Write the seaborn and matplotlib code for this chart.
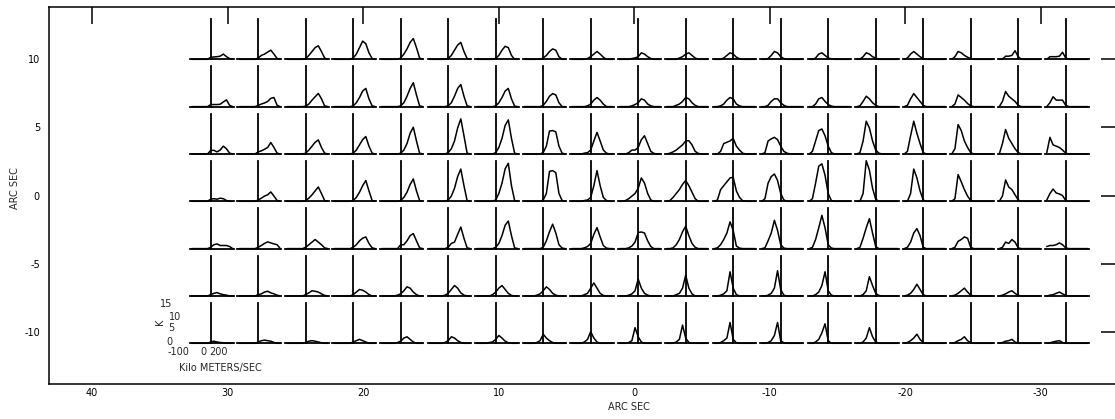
import matplotlib
matplotlib.use("Agg")
import matplotlib.pyplot as plt
import seaborn as sns

# channel velocities (km/s) shared by every spectrum
velocity = [-180, -150, -120, -90, -60, -30, 0, 30, 60, 90, 120, 150, 180, 210]

x_ticks = [40, 30, 20, 10, 0, -10, -20, -30]
y_ticks = [-10, -5, 0, 5, 10]

# brightness (K) per channel, one list per column (east -> west), one block per row (north -> south)
spec_row0 = [
    [0, 0, 0, 0, 0, 0, 0.8, 0.9, 1, 1.2, 2, 1, 0.3, 0],
    [0, 0, 0, 0, 0, 0, 0.5, 1.5, 2, 2.8, 3.5, 2, 0.3, 0],
    [0, 0, 0, 0, 0, 0, 0.3, 1.5, 3, 4.5, 5.2, 3, 0.5, 0],
    [0, 0, 0, 0, 0, 0, 0.5, 2, 4.5, 7, 6, 2.5, 0.3, 0],
    [0, 0, 0, 0, 0, 0, 0.5, 2, 4, 6.5, 8, 4.5, 0.5, 0],
    [0, 0, 0, 0, 0, 0, 0.3, 1.5, 3.5, 5.5, 6.5, 3, 0.3, 0],
    [0, 0, 0, 0, 0, 0, 0.3, 1.5, 3.5, 5, 4.5, 1.5, 0, 0],
    [0, 0, 0, 0, 0, 0, 0.5, 1.5, 3, 4, 3.5, 1, 0, 0],
    [0, 0, 0, 0, 0, 0.3, 1, 2, 3, 2, 0.8, 0, 0, 0],
    [0, 0, 0, 0, 0.3, 0.5, 1, 2.5, 2, 1, 0.3, 0, 0, 0],
    [0, 0, 0, 0, 0.5, 1, 2, 2.5, 1.5, 0.5, 0, 0, 0, 0],
    [0, 0, 0, 0.5, 1.5, 2.5, 2, 0.8, 0.2, 0, 0, 0, 0, 0],
    [0, 0, 0.3, 1.5, 3, 2.5, 1, 0.3, 0, 0, 0, 0, 0, 0],
    [0, 0, 0.5, 2, 2.5, 1.5, 0.5, 0.2, 0, 0, 0, 0, 0, 0],
    [0, 0, 1, 2.5, 2, 1, 0.5, 0, 0, 0, 0, 0, 0, 0],
    [0, 0.5, 2, 3, 2, 1, 0.3, 0, 0, 0, 0, 0, 0, 0],
    [0, 1, 3, 2.5, 1.5, 0.8, 0.3, 0, 0, 0, 0, 0, 0, 0],
    [0, 0, 1.2, 1.2, 1.5, 3.3, 1, 0, 0, 0, 0, 0, 0, 0],
    [0, 1, 1, 1, 1.2, 2.7, 0.5, 0, 0, 0, 0, 0, 0, 0],
]
spec_row1 = [
    [0, 0, 0, 0, 0, 0, 0.8, 0.8, 0.8, 0.9, 1.8, 2.6, 0.5, 0],
    [0, 0, 0, 0, 0, 0, 0.5, 1, 1.4, 2, 3.2, 3.5, 0.5, 0],
    [0, 0, 0, 0, 0, 0, 0.2, 1, 2.5, 3.8, 5.1, 3, 0.3, 0],
    [0, 0, 0, 0, 0, 0, 0.3, 1.5, 3.5, 6, 7, 3, 0.3, 0],
    [0, 0, 0, 0, 0, 0, 0.3, 1.5, 4, 7, 9.2, 4.5, 0.3, 0],
    [0, 0, 0, 0, 0, 0, 0.3, 1.5, 4, 7, 8.5, 4, 0.3, 0],
    [0, 0, 0, 0, 0, 0, 0.3, 1.5, 3.5, 6, 7, 3, 0.2, 0],
    [0, 0, 0, 0, 0, 0, 0.5, 2, 4, 5, 4.5, 1.5, 0, 0],
    [0, 0, 0, 0, 0, 0.3, 1, 2.5, 3.5, 2.5, 1, 0, 0, 0],
    [0, 0, 0, 0, 0.3, 0.8, 1.5, 3, 2.5, 1, 0.3, 0, 0, 0],
    [0, 0, 0, 0.5, 1, 2, 3.5, 3, 1.5, 0.5, 0, 0, 0, 0],
    [0, 0, 0.3, 1, 2.5, 3.5, 3, 1, 0.3, 0, 0, 0, 0, 0],
    [0, 0, 0.5, 2, 3, 3, 1.5, 0.5, 0, 0, 0, 0, 0, 0],
    [0, 0, 1, 3, 3.5, 2, 0.8, 0.2, 0, 0, 0, 0, 0, 0],
    [0, 0.3, 2, 4, 3, 1.5, 0.5, 0, 0, 0, 0, 0, 0, 0],
    [0, 0.5, 3, 5, 3.5, 2, 0.5, 0, 0, 0, 0, 0, 0, 0],
    [0, 1, 4.5, 3.5, 2.5, 1.2, 0.3, 0, 0, 0, 0, 0, 0, 0],
    [0, 2, 5.8, 4, 3, 2, 0.5, 0, 0, 0, 0, 0, 0, 0],
    [0, 1.5, 3.8, 2.5, 2.5, 2.5, 0.5, 0, 0, 0, 0, 0, 0, 0],
]
spec_row2 = [
    [0, 0, 0, 0, 0, 0, 1.4, 1.4, 0.8, 1.5, 3, 2, 0.3, 0],
    [0, 0, 0, 0, 0, 0, 0.8, 1.2, 1.8, 2.5, 4.4, 2.5, 0.3, 0],
    [0, 0, 0, 0, 0, 0, 0.3, 1.5, 3, 4.5, 5.4, 2.5, 0.3, 0],
    [0, 0, 0, 0, 0, 0, 0.3, 1.5, 3.5, 5.5, 6.7, 3, 0.3, 0],
    [0, 0, 0, 0, 0, 0, 0.3, 1.5, 4, 8, 10.3, 5, 0.3, 0],
    [0, 0, 0, 0, 0, 0, 0.5, 2, 5, 10, 13.5, 7, 0.3, 0],
    [0, 0, 0, 0, 0, 0, 0.5, 2.5, 6, 11, 13.1, 6, 0.3, 0],
    [0, 0, 0, 0, 0, 0, 0.5, 3, 8.8, 9, 8.5, 3, 0.3, 0],
    [0, 0, 0, 0, 0.3, 0.5, 1.5, 5, 8.3, 5, 1.5, 0.3, 0, 0],
    [0, 0, 0, 0.5, 1.5, 1.5, 2.5, 5.5, 7, 4, 1, 0.2, 0, 0],
    [0, 0.3, 0.8, 1.5, 2.5, 3.5, 5, 5.1, 3.5, 1, 0.2, 0, 0, 0],
    [0, 0, 1, 4, 4.5, 5, 6, 3, 1.5, 0.3, 0, 0, 0, 0],
    [0, 0.5, 5, 5.8, 6.4, 5.5, 3, 1, 0.3, 0, 0, 0, 0, 0],
    [0, 1, 5, 9, 9.6, 7, 3, 0.5, 0, 0, 0, 0, 0, 0],
    [0, 0.5, 5, 12.6, 10, 5, 1.5, 0.3, 0, 0, 0, 0, 0, 0],
    [0, 1, 7, 12.6, 8, 4, 0.5, 0, 0, 0, 0, 0, 0, 0],
    [0, 2, 11.3, 9, 5, 2.5, 0.5, 0, 0, 0, 0, 0, 0, 0],
    [0, 4, 9.4, 6, 4, 2, 0.5, 0, 0, 0, 0, 0, 0, 0],
    [0.5, 6.4, 3.5, 3, 2.5, 1.5, 0.3, 0, 0, 0, 0, 0, 0, 0],
]
spec_row3 = [
    [0, 0, 0, 0, 0, 0, 0.8, 1, 0.8, 1.2, 1, 0.3, 0, 0],
    [0, 0, 0, 0, 0, 0, 0.5, 1.2, 2, 2.5, 3.6, 2, 0.3, 0],
    [0, 0, 0, 0, 0, 0, 0.3, 1.2, 2.5, 4, 5.5, 3, 0.3, 0],
    [0, 0, 0, 0, 0, 0, 0.3, 1.5, 3.5, 6, 8, 4, 0.3, 0],
    [0, 0, 0, 0, 0, 0, 0.3, 1.5, 3.5, 6.5, 8.6, 4, 0.3, 0],
    [0, 0, 0, 0, 0, 0, 0.5, 2, 5, 9.5, 12.4, 6, 0.3, 0],
    [0, 0, 0, 0, 0, 0, 0.5, 3, 7, 12.5, 14.6, 6, 0.3, 0],
    [0, 0, 0, 0, 0, 0, 0.5, 3, 11.5, 11.8, 11, 3, 0.3, 0],
    [0, 0, 0, 0, 0.3, 0.5, 1.5, 6, 11.8, 6, 1.5, 0.3, 0, 0],
    [0, 0, 0.3, 1, 2, 3, 5, 9, 7, 3, 0.5, 0, 0, 0],
    [0, 0.3, 1.5, 3, 4.5, 6.5, 8, 6, 3.5, 1, 0, 0, 0, 0],
    [0, 0.5, 4.5, 6, 7.5, 9, 9.2, 4, 1.5, 0.2, 0, 0, 0, 0],
    [0, 1, 7, 9.5, 10.5, 8, 3, 0.5, 0, 0, 0, 0, 0, 0],
    [0, 1, 7, 13.5, 14.4, 10, 3, 0.3, 0, 0, 0, 0, 0, 0],
    [0, 0, 3, 15.6, 12, 5, 0.8, 0, 0, 0, 0, 0, 0, 0],
    [0, 0, 3, 12.4, 9, 4, 0.5, 0, 0, 0, 0, 0, 0, 0],
    [0, 1, 10.3, 7.5, 4.5, 2, 0.3, 0, 0, 0, 0, 0, 0, 0],
    [0, 2, 8.2, 5.5, 4.5, 2.5, 0.5, 0, 0, 0, 0, 0, 0, 0],
    [0.5, 3, 4.7, 3.2, 2.8, 2.2, 0.3, 0, 0, 0, 0, 0, 0, 0],
]
spec_row4 = [
    [0, 0, 0, 0, 0, 0, 0.5, 1.5, 1.8, 1.2, 1.2, 1.2, 0.8, 0],
    [0, 0, 0, 0, 0, 0, 0.5, 1.2, 2, 2.6, 2.2, 1.8, 1.5, 0],
    [0, 0, 0, 0, 0, 0, 0.5, 1.5, 2.5, 3.5, 2.5, 1.5, 0.3, 0],
    [0, 0, 0, 0, 0, 0, 0.5, 1.5, 3, 4, 4.5, 2, 0.3, 0],
    [0, 0, 0, 0, 0, 0, 1.5, 1.5, 3, 5, 5.8, 3, 0.3, 0],
    [0, 0, 0, 0, 0, 0, 0.5, 2, 2.5, 5.5, 8.3, 4, 0.3, 0],
    [0, 0, 0, 0, 0, 0, 0.5, 2, 5, 9, 10.6, 5, 0.3, 0],
    [0, 0, 0, 0, 0, 0, 0.5, 3, 6.5, 9.4, 6, 1.5, 0.2, 0],
    [0, 0, 0, 0, 0.3, 0.8, 2, 5.5, 8.1, 4.5, 1.2, 0.2, 0, 0],
    [0, 0, 0, 0.3, 1, 2.5, 6.2, 6.4, 6, 3, 0.8, 0, 0, 0],
    [0, 0, 0.3, 1.5, 3.5, 6.5, 8.6, 5, 2, 0.5, 0, 0, 0, 0],
    [0, 0.3, 1.5, 3.5, 6, 10.3, 7, 1, 0.2, 0, 0, 0, 0, 0],
    [0, 0.3, 3, 6, 10.9, 7, 1.5, 0.2, 0, 0, 0, 0, 0, 0],
    [0, 0.5, 3.5, 8, 12.8, 8, 1.5, 0.2, 0, 0, 0, 0, 0, 0],
    [0, 0.5, 4, 8, 11.5, 6, 0.8, 0, 0, 0, 0, 0, 0, 0],
    [0, 0.5, 2.5, 6, 7.7, 5, 0.5, 0, 0, 0, 0, 0, 0, 0],
    [0, 0.5, 2.8, 3.5, 4.5, 4, 0.5, 0, 0, 0, 0, 0, 0, 0],
    [0, 0.5, 2.5, 2, 3.5, 2.5, 0.3, 0, 0, 0, 0, 0, 0, 0],
    [0.8, 1.2, 1.2, 1.5, 2.2, 1.5, 0.3, 0, 0, 0, 0, 0, 0, 0],
]
spec_row5 = [
    [0, 0, 0, 0, 0, 0, 0.5, 1, 1.3, 0.8, 0.5, 0.3, 0, 0],
    [0, 0, 0, 0, 0, 0, 0.5, 0.8, 1.5, 1.8, 1.2, 0.8, 0.3, 0],
    [0, 0, 0, 0, 0, 0, 0.5, 1.2, 2, 1.8, 1.5, 0.8, 0.2, 0],
    [0, 0, 0, 0, 0, 0, 0.5, 1.5, 2.5, 2.2, 1.5, 0.5, 0, 0],
    [0, 0, 0, 0, 0, 0.3, 0.8, 2, 3.5, 3, 1.5, 0.5, 0, 0],
    [0, 0, 0, 0, 0, 0.3, 1, 2.5, 4, 3, 1.2, 0.3, 0, 0],
    [0, 0, 0, 0, 0, 0.5, 1.5, 3, 4, 2.5, 1, 0.2, 0, 0],
    [0, 0, 0, 0, 0.3, 0.8, 2, 3.5, 2.5, 1, 0.3, 0, 0, 0],
    [0, 0, 0, 0, 0.5, 1, 3, 5, 3, 1, 0.2, 0, 0, 0],
    [0, 0, 0, 0.3, 0.8, 2, 6.5, 3, 1, 0.3, 0, 0, 0, 0],
    [0, 0, 0, 0.5, 1, 3, 8, 3, 0.8, 0, 0, 0, 0, 0],
    [0, 0, 0.3, 0.8, 2, 9.3, 3, 0.5, 0, 0, 0, 0, 0, 0],
    [0, 0, 0.3, 1, 3, 9.7, 2.5, 0.3, 0, 0, 0, 0, 0, 0],
    [0, 0, 0.5, 1.5, 4, 9.3, 2, 0.3, 0, 0, 0, 0, 0, 0],
    [0, 0, 0.5, 2, 7.4, 4, 1, 0.2, 0, 0, 0, 0, 0, 0],
    [0, 0.3, 1, 2.5, 4.5, 2.5, 0.5, 0, 0, 0, 0, 0, 0, 0],
    [0, 0.3, 1, 2, 3, 1.5, 0.3, 0, 0, 0, 0, 0, 0, 0],
    [0, 0.3, 0.8, 1.5, 2, 1, 0.2, 0, 0, 0, 0, 0, 0, 0],
    [0, 0.3, 0.5, 1, 1.5, 0.8, 0.2, 0, 0, 0, 0, 0, 0, 0],
]
spec_row6 = [
    [0, 0, 0, 0, 0, 0, 0.5, 0.8, 0.5, 0.3, 0.2, 0, 0, 0],
    [0, 0, 0, 0, 0, 0, 0.5, 1, 1.2, 1, 0.8, 0.3, 0, 0],
    [0, 0, 0, 0, 0, 0, 0.3, 0.8, 1, 0.8, 0.5, 0.2, 0, 0],
    [0, 0, 0, 0, 0, 0, 0.5, 1, 1.5, 1, 0.5, 0, 0, 0],
    [0, 0, 0, 0, 0, 0.3, 0.8, 2, 2.5, 1.5, 0.5, 0, 0, 0],
    [0, 0, 0, 0, 0, 0.3, 1, 2.5, 2, 1, 0.3, 0, 0, 0],
    [0, 0, 0, 0, 0.3, 0.5, 1.5, 3, 2, 0.8, 0.2, 0, 0, 0],
    [0, 0, 0, 0, 0.3, 1, 3.5, 2, 1, 0.3, 0, 0, 0, 0],
    [0, 0, 0, 0, 0.5, 1.5, 4.5, 2, 0.5, 0, 0, 0, 0, 0],
    [0, 0, 0, 0.3, 1, 6, 2.5, 0.5, 0, 0, 0, 0, 0, 0],
    [0, 0, 0, 0.5, 1.5, 7, 2, 0.3, 0, 0, 0, 0, 0, 0],
    [0, 0, 0.3, 1, 2, 8, 1.5, 0.2, 0, 0, 0, 0, 0, 0],
    [0, 0, 0.3, 1, 3, 8, 1, 0.2, 0, 0, 0, 0, 0, 0],
    [0, 0, 0.5, 1.5, 4, 7.5, 1, 0, 0, 0, 0, 0, 0, 0],
    [0, 0, 0.5, 2, 6, 2.5, 0.5, 0, 0, 0, 0, 0, 0, 0],
    [0, 0.3, 1, 2, 3.5, 1.5, 0.3, 0, 0, 0, 0, 0, 0, 0],
    [0, 0.3, 1, 1.5, 2.5, 1, 0.2, 0, 0, 0, 0, 0, 0, 0],
    [0, 0.3, 0.8, 1, 1.5, 0.5, 0, 0, 0, 0, 0, 0, 0, 0],
    [0, 0.2, 0.5, 0.8, 1, 0.3, 0, 0, 0, 0, 0, 0, 0, 0],
]
spectra = [spec_row0, spec_row1, spec_row2, spec_row3, spec_row4, spec_row5, spec_row6]

# ---- layout in pixels ----
W, H = 1115, 419


def fx(px):
    return px / W


def fy(py):
    return 1 - py / H


sns.set_style("white")
plt.rcParams['font.family'] = ['DejaVu Sans']
plt.rcParams['axes.edgecolor'] = 'black'
plt.rcParams['xtick.color'] = 'black'
plt.rcParams['ytick.color'] = 'black'

fig = plt.figure(figsize=(W / 100, H / 100), dpi=100)

# main frame (ARC SEC vs ARC SEC)
ax = fig.add_axes([fx(49), fy(383.5), (1118 - 49) / W, (383.5 - 7) / H])
ax.set_xlim(43.17, -35.7)
ax.set_ylim(-13.8, 13.84)
ax.set_xticks(x_ticks)
ax.set_yticks(y_ticks)
ax.set_xticklabels([str(t) for t in x_ticks])
ax.set_yticklabels([str(t) for t in y_ticks])
ax.tick_params(axis='both', direction='in', length=12.5, width=1.1,
               labelsize=7, top=True, right=True)
ax.tick_params(axis='x', pad=3.5)
ax.tick_params(axis='y', pad=6.5)
for s in ax.spines.values():
    s.set_linewidth(1.1)
    s.set_color('black')
fig.text(fx(629), fy(407), 'ARC SEC', ha='center', va='center', fontsize=7)
fig.text(fx(15), fy(188), 'ARC SEC', ha='center', va='center', fontsize=7, rotation=90)

# spectrum boxes
col0_px = 210.7
col_step = 47.5
row0_px = 59.3
row_step = 47.33
box_w = 43.5
zero_off = 20.7
box_h = 40.3

for r, row in enumerate(spectra):
    base = row0_px + r * row_step
    for c, vals in enumerate(row):
        zero = col0_px + c * col_step
        sa = fig.add_axes([fx(zero - zero_off), fy(base), box_w / W, box_h / H])
        sa.patch.set_visible(False)
        sns.lineplot(x=velocity, y=vals, ax=sa, color='black', lw=1.1,
                     estimator=None, legend=False, clip_on=False)
        sa.set_xlim(-197, 217)
        sa.set_ylim(0, 15.5)
        sa.spines['top'].set_visible(False)
        sa.spines['right'].set_visible(False)
        sa.spines['left'].set_position(('data', 0))
        sa.spines['left'].set_linewidth(1.3)
        sa.spines['bottom'].set_linewidth(1.3)
        sa.set_xticks([-100, 0, 100, 200])
        sa.set_yticks([5, 10, 15])
        sa.tick_params(direction='in', length=2, width=1.0,
                       labelbottom=False, labelleft=False)
        sa.set_xlabel('')
        sa.set_ylabel('')

# axis annotation of the lower-left spectrum
fig.text(fx(178), fy(352), '-100', ha='center', va='center', fontsize=7)
fig.text(fx(203), fy(352), '0', ha='center', va='center', fontsize=7)
fig.text(fx(218), fy(352), '200', ha='center', va='center', fontsize=7)
fig.text(fx(220), fy(368), 'Kilo METERS/SEC', ha='center', va='center', fontsize=7)
fig.text(fx(166), fy(304), '15', ha='center', va='center', fontsize=7)
fig.text(fx(175), fy(317), '10', ha='center', va='center', fontsize=7)
fig.text(fx(171), fy(328), '5', ha='center', va='center', fontsize=7)
fig.text(fx(169), fy(342), '0', ha='center', va='center', fontsize=7)
fig.text(fx(160), fy(322), 'K', ha='center', va='center', fontsize=7, rotation=90)

fig.savefig('out.png', dpi=100)
